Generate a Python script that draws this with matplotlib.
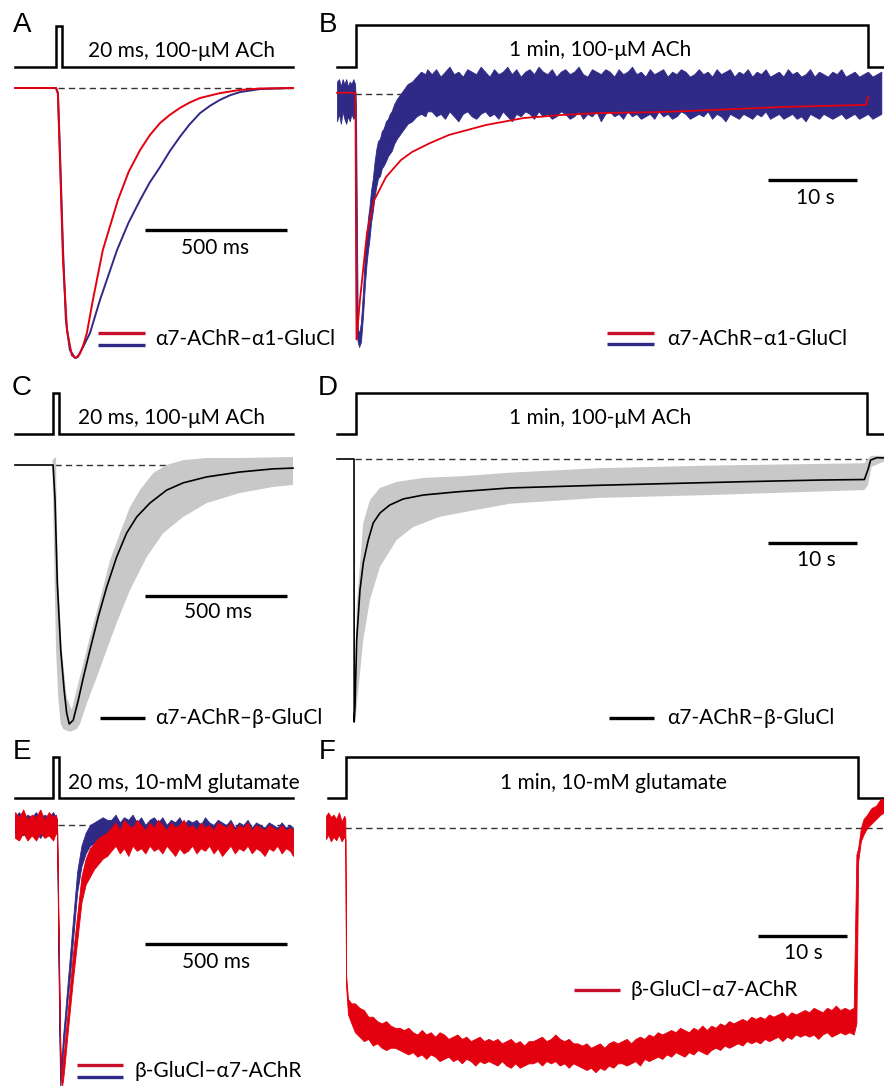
import numpy as np
import matplotlib
matplotlib.use("Agg")
import matplotlib.pyplot as plt
from matplotlib.lines import Line2D

# ---------------- data (time in ms for A/C/E, s for B/D/F; current normalised to peak) ----------------
# stimulus protocols
A_stim_t = [-144, 0, 0, 20, 20, 834]
C_stim_t = [-134, 0, 0, 20, 20, 845]
E_stim_t = [-134, 0, 0, 20, 20, 845]
pulse_lvl = [0, 0, 1, 1, 0, 0]
B_stim_t = [-2.13, 0, 0, 57.5, 57.5, 59.3]
D_stim_t = [-2.13, 0, 0, 57.4, 57.4, 59.3]
F_stim_t = [-2.0, 0, 0, 57.5, 57.5, 60.4]

# A: alpha7-AChR-alpha1-GluCl, 20 ms ACh
A_blue_t = [-144, 0, 4, 7, 14, 25, 35, 49, 67, 77, 95, 120, 155, 215, 255, 296, 330, 366, 400, 436,
            470, 507, 542, 577, 612, 648, 718, 834]
A_blue = [0, 0, -0.01, -0.02, -0.23, -0.6, -0.86, -0.97, -1.0, -0.996, -0.96, -0.907, -0.785, -0.6,
          -0.5, -0.415, -0.35, -0.293, -0.235, -0.181, -0.135, -0.093, -0.066, -0.044, -0.027, -0.015,
          -0.004, 0]
A_red_t = [-144, 0, 4, 7, 14, 25, 39, 56, 70, 84, 97, 109, 130, 165, 218, 256, 296, 330, 366, 400,
           436, 470, 507, 577, 648, 720, 834]
A_red = [0, 0, -0.01, -0.02, -0.26, -0.64, -0.9, -0.99, -1.0, -0.985, -0.95, -0.907, -0.785, -0.6,
         -0.415, -0.31, -0.23, -0.175, -0.13, -0.1, -0.074, -0.054, -0.037, -0.019, -0.007, -0.002, 0]

# B: alpha7-AChR-alpha1-GluCl, 1 min ACh
B_red_t = [-2.13, -0.06, 0.06, 0.45, 1.24, 2.02, 3.37, 5.06, 6.29, 8.31, 10.45, 14.6, 18.8, 23.0,
           27.2, 33.9, 39.8, 48.1, 57.3, 57.5]
B_red = [0.005, 0.005, -0.99, -0.83, -0.56, -0.43, -0.335, -0.266, -0.234, -0.198, -0.165, -0.125,
         -0.097, -0.085, -0.077, -0.073, -0.065, -0.052, -0.044, -0.012]
B_blue_t = [-2.13, -1.9, -1.7, -1.5, -1.3, -1.1, -0.9, -0.7, -0.5, -0.3, -0.1,
            0.0, 0.2, 0.35, 0.56, 0.8, 1.0, 1.2, 1.35, 1.5, 1.69, 1.9, 2.1, 2.3, 2.47,
            2.7, 2.9, 3.1, 3.37, 3.6, 3.8, 4.0, 4.3, 4.6, 5.0, 5.4, 5.8, 6.3, 6.8, 7.3, 7.8, 8.0,
            8.5, 9, 9.5, 10, 10.5, 11, 11.5, 12, 12.5, 13,
            13.5, 14, 14.5, 15, 15.5, 16, 16.5, 17, 17.5, 18,
            18.5, 19, 19.5, 20, 20.5, 21, 21.5, 22, 22.5, 23,
            23.5, 24, 24.5, 25, 25.5, 26, 26.5, 27, 27.5, 28,
            28.5, 29, 29.5, 30, 30.5, 31, 31.5, 32, 32.5, 33,
            33.5, 34, 34.5, 35, 35.5, 36, 36.5, 37, 37.5, 38,
            38.5, 39, 39.5, 40, 40.5, 41, 41.5, 42, 42.5, 43,
            43.5, 44, 44.5, 45, 45.5, 46, 46.5, 47, 47.5, 48,
            48.5, 49, 49.5, 50, 50.5, 51, 51.5, 52, 52.5, 53,
            53.5, 54, 54.5, 55, 55.5, 56, 56.5, 57, 57.5, 58,
            58.5, 59]
B_blue_hi = [0.05, 0.06, 0.03, 0.06, 0.04, 0.06, 0.03, 0.05, 0.04, 0.06, 0.04,
             -0.05, -0.94, -0.97, -0.92, -0.79, -0.64, -0.56, -0.50, -0.46, -0.39, -0.34, -0.27, -0.22, -0.19,
             -0.18, -0.15, -0.14, -0.11, -0.10, -0.08, -0.07, -0.04, -0.02, 0.00, 0.02, 0.04, 0.05, 0.07,
             0.09, 0.08, 0.10,
             0.08, 0.10, 0.07, 0.09, 0.11, 0.08, 0.09, 0.07, 0.10, 0.09,
             0.08, 0.11, 0.09, 0.07, 0.10, 0.08, 0.09, 0.11, 0.08, 0.10,
             0.07, 0.09, 0.10, 0.08, 0.11, 0.09, 0.08, 0.10, 0.07, 0.09,
             0.10, 0.08, 0.09, 0.11, 0.08, 0.07, 0.10, 0.09, 0.08, 0.10,
             0.09, 0.07, 0.10, 0.08, 0.09, 0.11, 0.08, 0.09, 0.07, 0.10,
             0.08, 0.09, 0.10, 0.07, 0.09, 0.08, 0.10, 0.09, 0.07, 0.08,
             0.10, 0.08, 0.09, 0.07, 0.10, 0.08, 0.09, 0.10, 0.07, 0.09,
             0.08, 0.10, 0.07, 0.09, 0.08, 0.10, 0.07, 0.08, 0.09, 0.07,
             0.10, 0.08, 0.09, 0.07, 0.08, 0.10, 0.07, 0.09, 0.08, 0.07,
             0.09, 0.08, 0.10, 0.07, 0.08, 0.09, 0.07, 0.08, 0.09, 0.07,
             0.08, 0.09]
B_blue_lo = [-0.11, -0.08, -0.12, -0.07, -0.10, -0.12, -0.09, -0.11, -0.08, -0.10, -0.09,
             -0.95, -1.0, -1.02, -1.0, -0.89, -0.77, -0.68, -0.63, -0.59, -0.52, -0.47, -0.41, -0.37, -0.34,
             -0.33, -0.30, -0.29, -0.27, -0.25, -0.24, -0.23, -0.20, -0.18, -0.16, -0.14, -0.12, -0.11,
             -0.09, -0.08, -0.09, -0.07,
             -0.07, -0.09, -0.08, -0.10, -0.07, -0.09, -0.11, -0.08, -0.07, -0.09,
             -0.10, -0.08, -0.07, -0.09, -0.08, -0.10, -0.07, -0.09, -0.11, -0.08,
             -0.09, -0.07, -0.08, -0.10, -0.07, -0.09, -0.08, -0.10, -0.09, -0.07,
             -0.08, -0.10, -0.09, -0.07, -0.10, -0.08, -0.09, -0.07, -0.11, -0.08,
             -0.07, -0.09, -0.08, -0.10, -0.07, -0.09, -0.08, -0.10, -0.09, -0.08,
             -0.10, -0.07, -0.09, -0.08, -0.10, -0.09, -0.07, -0.08, -0.10, -0.09,
             -0.08, -0.09, -0.07, -0.10, -0.08, -0.09, -0.11, -0.08, -0.09, -0.10,
             -0.08, -0.09, -0.10, -0.08, -0.09, -0.07, -0.10, -0.09, -0.08, -0.10,
             -0.09, -0.08, -0.10, -0.09, -0.11, -0.08, -0.09, -0.10, -0.08, -0.09,
             -0.10, -0.09, -0.08, -0.10, -0.09, -0.08, -0.10, -0.09, -0.08, -0.10,
             -0.09, -0.08]

# C: alpha7-AChR-beta-GluCl, mean and SD band, 20 ms ACh
C_mean_t = [-134, 0, 7, 15, 27, 39, 48, 57, 71, 89, 107, 130, 159, 189, 224, 259, 295, 341, 400, 458,
            541, 658, 774, 845]
C_mean = [0, 0, -0.135, -0.456, -0.714, -0.869, -0.958, -1.0, -0.985, -0.907, -0.819, -0.714, -0.587,
          -0.471, -0.355, -0.263, -0.2, -0.147, -0.097, -0.069, -0.046, -0.027, -0.015, -0.012]
C_sd_lo_t = [-2, 3.5, 10.6, 18.8, 27, 36, 60, 83, 95, 119, 154, 189, 224, 271, 330, 388, 459, 541, 658,
             774, 845]
C_sd_lo = [-0.01, -0.33, -0.714, -0.907, -1.0, -1.02, -1.03, -1.02, -1.0, -0.92, -0.82, -0.714, -0.61,
           -0.483, -0.355, -0.263, -0.2, -0.147, -0.108, -0.085, -0.077]
C_sd_hi_t = [-2, 10.6, 13, 19, 31, 48, 66, 77, 101, 130, 165, 201, 236, 271, 306, 353, 400, 459, 541,
             658, 845]
C_sd_hi = [0.02, 0.03, -0.2, -0.456, -0.714, -0.896, -0.946, -0.896, -0.79, -0.664, -0.521, -0.367,
           -0.263, -0.162, -0.097, -0.031, 0.0, 0.019, 0.027, 0.027, 0.031]

# D: alpha7-AChR-beta-GluCl, 1 min ACh
D_mean_t = [-2.13, -0.22, -0.2, -0.11, 0.08, 0.45, 0.82, 1.38, 1.94, 2.7, 3.8, 5.3, 7.56, 11.3, 17.3,
            27.2, 35.5, 43.9, 52.2, 57.1, 57.5, 57.8, 58.5, 59.3]
D_mean = [0, 0, -1.0, -0.943, -0.688, -0.498, -0.395, -0.308, -0.243, -0.205, -0.175, -0.152, -0.137,
          -0.125, -0.11, -0.1, -0.093, -0.086, -0.08, -0.078, -0.04, -0.004, 0.005, 0.004]
D_sd_lo_t = [-0.05, 0.08, 0.82, 1.57, 2.7, 4.57, 6.4, 9.4, 13.4, 17.3, 27.2, 39.8, 57.1, 57.5, 57.9, 59.3]
D_sd_lo = [-1.0, -0.943, -0.688, -0.536, -0.41, -0.308, -0.259, -0.22, -0.194, -0.17, -0.148, -0.137,
           -0.118, -0.1, -0.03, -0.01]
D_sd_hi_t = [-0.05, 0.08, 0.82, 1.57, 2.7, 4.57, 7.56, 12.1, 17.3, 27.2, 39.8, 57.1, 57.5, 57.9, 59.3]
D_sd_hi = [-0.9, -0.56, -0.243, -0.156, -0.11, -0.087, -0.072, -0.065, -0.052, -0.035, -0.025, -0.016,
           0.0, 0.012, 0.012]

# E: beta-GluCl-alpha7-AChR, 20 ms glutamate (noise envelopes)
E_t = [-134, -120, -105, -90, -75, -60, -45, -30, -15, 0, 10, 14,
       20, 25, 30, 35, 40, 50, 60, 70, 85, 100, 115, 130, 145, 160, 175, 190,
       205, 220, 235, 250, 265, 280, 295, 310, 325, 340, 355, 370, 385, 400, 415, 430, 445, 460, 475,
       490, 505, 520, 535, 550, 565, 580, 595, 610, 625, 640, 655, 670, 685, 700, 715, 730, 745, 760,
       775, 790, 805, 820, 835, 845]
E_blue_hi = [0.03, 0.05, 0.02, 0.04, 0.03, 0.05, 0.02, 0.04, 0.03, 0.05, 0.03, 0.02,
             -0.57, -0.98, -0.91, -0.82, -0.76, -0.63, -0.50, -0.37, -0.18, -0.08, -0.03, 0.0, 0.01,
             0.02, 0.03, 0.02,
             0.02, 0.04, 0.01, 0.03, 0.02, 0.04, 0.01, 0.03, 0.00, 0.02,
             0.03, 0.01, 0.03, 0.00, 0.02, 0.01, 0.03, 0.00, 0.02, 0.01,
             0.02, 0.00, 0.03, 0.01, 0.00, 0.02, 0.01, 0.00, 0.02, -0.01,
             0.01, 0.00, 0.02, -0.01, 0.01, 0.00, -0.01, 0.01, 0.00, -0.01,
             0.01, -0.01, 0.00, -0.01]
E_blue_lo = [-0.03, -0.02, -0.04, -0.02, -0.04, -0.03, -0.05, -0.02, -0.04, -0.03, -0.02, -0.02,
             -0.63, -1.01, -0.95, -0.88, -0.82, -0.69, -0.58, -0.45, -0.26, -0.16, -0.11, -0.08, -0.07,
             -0.06, -0.05, -0.05,
             -0.05, -0.04, -0.06, -0.04, -0.05, -0.06, -0.04, -0.05, -0.06, -0.04,
             -0.05, -0.06, -0.05, -0.07, -0.05, -0.06, -0.05, -0.07, -0.06, -0.05,
             -0.06, -0.07, -0.05, -0.06, -0.07, -0.06, -0.05, -0.07, -0.06, -0.07,
             -0.06, -0.07, -0.06, -0.08, -0.06, -0.07, -0.08, -0.06, -0.07, -0.08,
             -0.07, -0.08, -0.07, -0.08]
E_red_hi = [0.05, 0.03, 0.06, 0.02, 0.04, 0.03, 0.06, 0.02, 0.05, 0.03, 0.04, 0.02,
            -0.42, -0.82, -0.98, -0.91, -0.86, -0.74, -0.62, -0.50, -0.35, -0.20, -0.13, -0.09, -0.07,
            -0.05, -0.04, -0.03,
            -0.01, 0.01, -0.02, 0.02, 0.00, -0.01, 0.02, 0.00, -0.02, 0.01,
            -0.01, 0.02, 0.00, -0.02, 0.01, -0.01, 0.00, 0.02, -0.01, 0.00,
            -0.02, 0.01, -0.01, 0.00, -0.02, 0.01, 0.00, -0.01, 0.01, -0.02,
            0.00, -0.01, 0.01, -0.02, 0.00, -0.01, -0.02, 0.00, -0.01, -0.02,
            0.00, -0.02, -0.01, -0.02]
E_red_lo = [-0.05, -0.06, -0.03, -0.06, -0.04, -0.06, -0.03, -0.05, -0.04, -0.06, -0.03, -0.04,
            -0.48, -0.88, -1.02, -0.99, -0.94, -0.82, -0.71, -0.60, -0.45, -0.30, -0.23, -0.20, -0.17,
            -0.15, -0.13, -0.12,
            -0.10, -0.08, -0.11, -0.09, -0.12, -0.08, -0.10, -0.09, -0.11, -0.08,
            -0.10, -0.09, -0.11, -0.08, -0.10, -0.12, -0.09, -0.11, -0.10, -0.08,
            -0.11, -0.09, -0.10, -0.08, -0.11, -0.09, -0.12, -0.10, -0.08, -0.11,
            -0.09, -0.10, -0.08, -0.11, -0.09, -0.10, -0.12, -0.09, -0.10, -0.08,
            -0.11, -0.09, -0.10, -0.12]

# F: beta-GluCl-alpha7-AChR, 1 min glutamate (noise envelope)
F_t = [-2.25, -2.0, -1.7, -1.4, -1.1, -0.8, -0.5, -0.2, -0.08, 0.0, 0.22, 0.6,
       1.0, 1.5, 2.0, 2.5, 3.0, 3.5, 4.0, 4.5, 5.0, 5.5,
       6.0, 6.5, 7.0, 7.5, 8.0, 8.5, 9.0, 9.5, 10.0, 10.5,
       11.0, 11.5, 12.0, 12.5, 13.0, 13.5, 14.0, 14.5, 15.0, 15.5,
       16.0, 16.5, 17.0, 17.5, 18.0, 18.5, 19.0, 19.5, 20.0, 20.5,
       21.0, 21.5, 22.0, 22.5, 23.0, 23.5, 24.0, 24.5, 25.0, 25.5,
       26.0, 26.5, 27.0, 27.5, 28.0, 28.5, 29.0, 29.5, 30.0, 30.5,
       31.0, 31.5, 32.0, 32.5, 33.0, 33.5, 34.0, 34.5, 35.0, 35.5,
       36.0, 36.5, 37.0, 37.5, 38.0, 38.5, 39.0, 39.5, 40.0, 40.5,
       41.0, 41.5, 42.0, 42.5, 43.0, 43.5, 44.0, 44.5, 45.0, 45.5,
       46.0, 46.5, 47.0, 47.5, 48.0, 48.5, 49.0, 49.5, 50.0, 50.5,
       51.0, 51.5, 52.0, 52.5, 53.0, 53.5, 54.0, 54.5, 55.0, 55.5,
       56.0, 56.5, 57.0,
       57.3, 57.5, 57.8, 58.1, 58.5, 59.0, 59.5, 60.0, 60.4]
F_hi = [0.055, 0.07, 0.05, 0.06, 0.04, 0.07, 0.03, 0.055, 0.04, -0.66, -0.77, -0.79,
        -0.79, -0.81, -0.82, -0.85, -0.85, -0.87, -0.88, -0.87, -0.89, -0.90,
        -0.90, -0.91, -0.90, -0.92, -0.93, -0.91, -0.93, -0.92, -0.94, -0.92,
        -0.93, -0.95, -0.94, -0.93, -0.95, -0.94, -0.96, -0.95, -0.94, -0.96,
        -0.95, -0.96, -0.95, -0.97, -0.96, -0.95, -0.97, -0.96, -0.98, -0.96,
        -0.96, -0.95, -0.94, -0.96, -0.95, -0.93, -0.95, -0.96, -0.95, -0.97,
        -0.97, -0.98, -0.97, -0.99, -0.98, -0.97, -0.99, -0.97, -0.96, -0.97,
        -0.96, -0.95, -0.97, -0.95, -0.94, -0.95, -0.93, -0.94, -0.92, -0.93,
        -0.92, -0.91, -0.92, -0.90, -0.91, -0.92, -0.90, -0.91, -0.89, -0.91,
        -0.89, -0.90, -0.88, -0.89, -0.87, -0.88, -0.87, -0.86, -0.87, -0.85,
        -0.86, -0.85, -0.86, -0.84, -0.85, -0.84, -0.83, -0.85, -0.83, -0.84,
        -0.83, -0.82, -0.83, -0.81, -0.82, -0.83, -0.81, -0.82, -0.80, -0.82,
        -0.81, -0.82, -0.81,
        -0.12, -0.09, 0.0, 0.04, 0.06, 0.09, 0.10, 0.13, 0.13]
F_lo = [-0.05, -0.03, -0.06, -0.04, -0.055, -0.03, -0.06, -0.04, -0.05, -0.71, -0.84, -0.88,
        -0.92, -0.94, -0.96, -0.95, -0.98, -0.97, -0.99, -1.00, -0.99, -0.99,
        -1.00, -1.01, -1.02, -1.01, -1.03, -1.02, -1.04, -1.02, -1.03, -1.05,
        -1.04, -1.03, -1.05, -1.04, -1.06, -1.04, -1.05, -1.07, -1.05, -1.06,
        -1.05, -1.06, -1.07, -1.05, -1.07, -1.08, -1.06, -1.08, -1.07, -1.06,
        -1.06, -1.05, -1.07, -1.05, -1.06, -1.05, -1.07, -1.06, -1.08, -1.06,
        -1.07, -1.08, -1.09, -1.08, -1.10, -1.08, -1.09, -1.07, -1.08, -1.06,
        -1.06, -1.07, -1.06, -1.05, -1.07, -1.04, -1.05, -1.04, -1.03, -1.04,
        -1.02, -1.03, -1.01, -1.02, -1.03, -1.01, -1.02, -1.00, -1.01, -1.02,
        -1.00, -0.99, -1.00, -0.98, -0.99, -0.98, -0.97, -0.98, -0.96, -0.97,
        -0.96, -0.97, -0.95, -0.96, -0.95, -0.94, -0.96, -0.94, -0.95, -0.93,
        -0.94, -0.93, -0.94, -0.93, -0.95, -0.93, -0.92, -0.94, -0.93, -0.92,
        -0.93, -0.92, -0.93,
        -0.88, -0.15, -0.06, -0.03, 0.0, 0.02, 0.04, 0.06, 0.07]

for name, a, b in [("B", B_blue_t, B_blue_hi), ("B2", B_blue_t, B_blue_lo),
                   ("E", E_t, E_blue_hi), ("E2", E_t, E_red_lo), ("E3", E_t, E_red_hi), ("E4", E_t, E_blue_lo),
                   ("F", F_t, F_hi), ("F2", F_t, F_lo), ("A", A_blue_t, A_blue), ("A2", A_red_t, A_red),
                   ("C", C_mean_t, C_mean), ("C2", C_sd_lo_t, C_sd_lo), ("C3", C_sd_hi_t, C_sd_hi),
                   ("D", D_mean_t, D_mean), ("D2", D_sd_lo_t, D_sd_lo), ("D3", D_sd_hi_t, D_sd_hi)]:
    assert len(a) == len(b), (name, len(a), len(b))

# ---------------- figure ----------------
RED = "#e3000f"
RED_LEG = "#c8102e"
BLUE = "#2e2a86"
GRAY = "#c8c8c8"
TXT = ["Lato", "DejaVu Sans"]

W, H = 884, 1086
fig = plt.figure(figsize=(W / 100, H / 100), dpi=100)


def px_ax(x0, x1, ytop, ybot, xlim, ylim):
    ax = fig.add_axes([x0 / W, 1 - ybot / H, (x1 - x0) / W, (ybot - ytop) / H])
    ax.set_xlim(*xlim)
    ax.set_ylim(*ylim)
    ax.set_axis_off()
    return ax


def ftext(x, y, s, **kw):
    kw.setdefault("family", TXT)
    kw.setdefault("fontsize", 15)
    fig.text(x / W, 1 - y / H, s, va="center", **kw)


def fline(x0, x1, y, color):
    fig.add_artist(Line2D([x0 / W, x1 / W], [1 - y / H, 1 - y / H], color=color, lw=2.4,
                          solid_capstyle="butt"))


def noisy(ax, t, lo, hi, color):
    ax.fill_between(t, lo, hi, color=color, lw=0.6, clip_on=False)


def stim(ax, t):
    ax.plot(t, pulse_lvl, color="black", lw=1.8, clip_on=False, solid_joinstyle="miter")


def dashed(ax, t0, t1):
    ax.plot([t0, t1], [0, 0], color="#333333", lw=1.0, ls=(0, (4.5, 3)), clip_on=False, zorder=0)


def scalebar(ax, t0, length, y):
    ax.plot([t0, t0 + length], [y, y], color="black", lw=2.4, solid_capstyle="butt", clip_on=False)


def sd_band(ax, lo_t, lo, hi_t, hi):
    ax.fill(np.concatenate([lo_t, hi_t[::-1]]), np.concatenate([lo, hi[::-1]]),
            color=GRAY, lw=0, clip_on=False)


# ---- panel A ----
axs = px_ax(15, 293, 26, 67, (-144, 834), (0, 1))
stim(axs, A_stim_t)
ax = px_ax(15, 293, 88, 358, (-144, 834), (-1, 0))
dashed(ax, 7, 834)
ax.plot(A_blue_t, A_blue, color=BLUE, lw=1.4, clip_on=False)
ax.plot(A_red_t, A_red, color=RED, lw=1.4, clip_on=False)
scalebar(ax, 313, 500, -0.526)

# ---- panel B ----
axs = px_ax(337, 884, 25, 67, (-2.13, 59.3), (0, 1))
stim(axs, B_stim_t)
ax = px_ax(337, 884, 94, 342, (-2.13, 59.3), (-1, 0))
dashed(ax, -0.1, 57.5)
noisy(ax, B_blue_t, B_blue_lo, B_blue_hi, BLUE)
ax.plot(B_red_t, B_red, color=RED, lw=1.3, clip_on=False)
scalebar(ax, 46.3, 10, -0.347)

# ---- panel C ----
axs = px_ax(15, 293, 393, 434, (-134, 845), (0, 1))
stim(axs, C_stim_t)
ax = px_ax(15, 293, 465, 724, (-134, 845), (-1, 0))
dashed(ax, 7, 845)
sd_band(ax, C_sd_lo_t, C_sd_lo, C_sd_hi_t, C_sd_hi)
ax.plot(C_mean_t, C_mean, color="black", lw=1.2, clip_on=False)
scalebar(ax, 324, 500, -0.506)

# ---- panel D ----
axs = px_ax(337, 884, 393, 434, (-2.13, 59.3), (0, 1))
stim(axs, D_stim_t)
ax = px_ax(337, 884, 459, 722, (-2.13, 59.3), (-1, 0))
dashed(ax, -0.1, 57.4)
sd_band(ax, D_sd_lo_t, D_sd_lo, D_sd_hi_t, D_sd_hi)
ax.plot(D_mean_t, D_mean, color="black", lw=1.2, clip_on=False)
scalebar(ax, 46.3, 10, -0.319)

# ---- panel E ----
axs = px_ax(15, 293, 757, 798, (-134, 845), (0, 1))
stim(axs, E_stim_t)
ax = px_ax(15, 293, 825, 1083, (-134, 845), (-1, 0))
dashed(ax, 17, 834)
noisy(ax, E_t, E_blue_lo, E_blue_hi, BLUE)
noisy(ax, E_t, E_red_lo, E_red_hi, RED)
scalebar(ax, 324, 500, -0.461)

# ---- panel F ----
axs = px_ax(326, 884, 757, 798, (-2.25, 60.4), (0, 1))
stim(axs, F_stim_t)
ax = px_ax(326, 884, 828, 1050, (-2.25, 60.4), (-1, 0))
dashed(ax, -0.1, 60.4)
noisy(ax, F_t, F_lo, F_hi, RED)
scalebar(ax, 46.3, 10, -0.486)

# ---- texts ----
for x, y, s in [(22, 25, "A"), (328, 25, "B"), (22, 388, "C"), (328, 388, "D"), (22, 752, "E"), (327, 752, "F")]:
    fig.text(x / W, 1 - y / H, s, family="Liberation Sans", fontsize=20, ha="center", va="center")

ftext(182, 51, "20 ms, 100-μM ACh", ha="center")
ftext(600, 50, "1 min, 100-μM ACh", ha="center")
ftext(171, 418, "20 ms, 100-μM ACh", ha="center")
ftext(600, 418, "1 min, 100-μM ACh", ha="center")
ftext(68, 783, "20 ms, 10-mM glutamate", ha="left")
ftext(613, 783, "1 min, 10-mM glutamate", ha="center")

ftext(215, 248, "500 ms", ha="center")
ftext(218, 612, "500 ms", ha="center")
ftext(216, 962, "500 ms", ha="center")
ftext(815, 198, "10 s", ha="center")
ftext(816, 560, "10 s", ha="center")
ftext(803, 953, "10 s", ha="center")

# legends
fline(98, 145, 333, RED_LEG)
fline(98, 145, 345, BLUE)
ftext(155, 339, "α7-AChR–α1-GluCl", ha="left")
fline(607, 654, 333, RED_LEG)
fline(607, 654, 344, BLUE)
ftext(667, 339, "α7-AChR–α1-GluCl", ha="left")
fline(100, 145, 718, "black")
ftext(155, 718, "α7-AChR–β-GluCl", ha="left")
fline(609, 654, 718, "black")
ftext(667, 718, "α7-AChR–β-GluCl", ha="left")
fline(77, 123, 1065, RED_LEG)
fline(77, 123, 1077, BLUE)
ftext(135, 1071, "β-GluCl–α7-AChR", ha="left")
fline(574, 620, 990, RED_LEG)
ftext(631, 990, "β-GluCl–α7-AChR", ha="left")

fig.savefig("out.png", dpi=100)
